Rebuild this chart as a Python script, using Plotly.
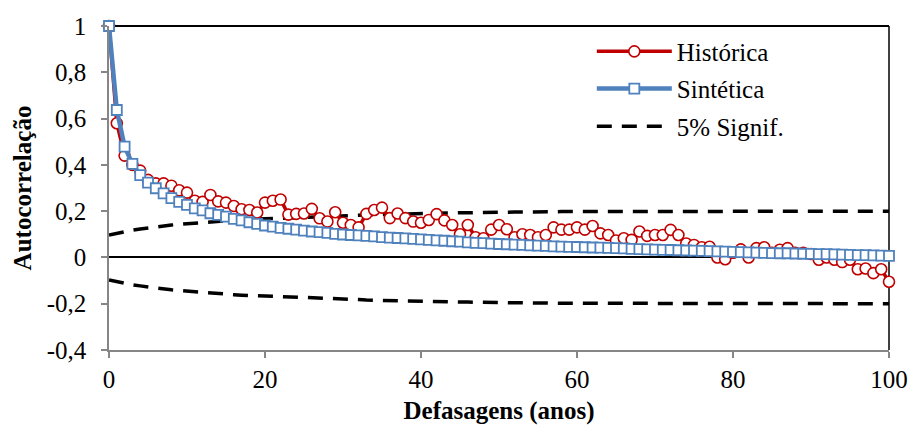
import plotly.graph_objects as go

lags = list(range(0, 101))

historica = [
    1.0, 0.58, 0.44, 0.40, 0.375, 0.335, 0.32, 0.32, 0.31, 0.29,
    0.28, 0.245, 0.24, 0.27, 0.242, 0.237, 0.222, 0.208, 0.205, 0.194,
    0.237, 0.245, 0.25, 0.185, 0.188, 0.19, 0.21, 0.169, 0.155, 0.195,
    0.15, 0.14, 0.13, 0.188, 0.205, 0.215, 0.17, 0.19, 0.17, 0.155,
    0.15, 0.162, 0.187, 0.16, 0.14, 0.10, 0.14, 0.087, 0.083, 0.12,
    0.14, 0.122, 0.087, 0.10, 0.097, 0.087, 0.097, 0.13, 0.12, 0.12,
    0.13, 0.12, 0.136, 0.104, 0.097, 0.073, 0.083, 0.076, 0.112, 0.093,
    0.097, 0.097, 0.119, 0.097, 0.06, 0.054, 0.044, 0.046, 0.0, -0.008,
    0.02, 0.035, 0.0, 0.04, 0.044, 0.02, 0.033, 0.04, 0.02, 0.02,
    0.015, -0.01, 0.0, -0.01, -0.02, -0.01, -0.051, -0.048, -0.068, -0.051,
    -0.105,
]

sintetica = [
    1.0, 0.637, 0.479, 0.404, 0.356, 0.323, 0.299, 0.277, 0.256, 0.240,
    0.227, 0.212, 0.203, 0.191, 0.184, 0.176, 0.167, 0.160, 0.152, 0.145,
    0.138, 0.133, 0.128, 0.124, 0.120, 0.116, 0.112, 0.109, 0.106, 0.102,
    0.099, 0.097, 0.095, 0.093, 0.091, 0.088, 0.086, 0.084, 0.082, 0.080,
    0.078, 0.076, 0.074, 0.072, 0.070, 0.068, 0.065, 0.063, 0.062, 0.060,
    0.058, 0.057, 0.055, 0.054, 0.052, 0.051, 0.050, 0.048, 0.047, 0.046,
    0.045, 0.044, 0.043, 0.042, 0.041, 0.040, 0.039, 0.037, 0.036, 0.035,
    0.034, 0.033, 0.032, 0.031, 0.030, 0.029, 0.028, 0.027, 0.026, 0.025,
    0.024, 0.023, 0.022, 0.021, 0.020, 0.019, 0.018, 0.018, 0.017, 0.016,
    0.015, 0.014, 0.014, 0.013, 0.012, 0.011, 0.010, 0.010, 0.009, 0.008,
    0.007,
]

signif_sup = [
    0.097, 0.105, 0.112, 0.118, 0.123, 0.128, 0.132, 0.136, 0.140, 0.143,
    0.146, 0.149, 0.152, 0.155, 0.157, 0.159, 0.161, 0.163, 0.165, 0.166,
    0.167, 0.168, 0.169, 0.170, 0.171, 0.173, 0.174, 0.176, 0.177, 0.178,
    0.180, 0.181, 0.182, 0.184, 0.185, 0.186, 0.187, 0.188, 0.189, 0.189,
    0.190, 0.191, 0.191, 0.192, 0.192, 0.193, 0.193, 0.194, 0.194, 0.195,
    0.195, 0.196, 0.196, 0.196, 0.197, 0.197, 0.197, 0.198, 0.198, 0.198,
    0.198, 0.199, 0.199, 0.199, 0.199, 0.199, 0.2, 0.2, 0.2, 0.2,
    0.2, 0.2, 0.2, 0.2, 0.2, 0.2, 0.2, 0.2, 0.2, 0.2,
    0.2, 0.2, 0.2, 0.2, 0.2, 0.2, 0.2, 0.2, 0.2, 0.2,
    0.2, 0.2, 0.2, 0.2, 0.2, 0.2, 0.2, 0.2, 0.2, 0.2,
    0.2,
]
signif_inf = [-v for v in signif_sup]

y_tickvals = [-0.4, -0.2, 0, 0.2, 0.4, 0.6, 0.8, 1]
y_ticktext = ["-0,4", "-0,2", "0", "0,2", "0,4", "0,6", "0,8", "1"]
x_tickvals = [0, 20, 40, 60, 80, 100]

FONT = "Liberation Serif"
RED = "#C00000"
BLUE = "#4F81BD"

fig = go.Figure()

fig.add_trace(go.Scatter(
    x=lags, y=signif_sup, mode="lines", name="5% Signif.",
    line=dict(color="black", width=3.5, dash="15px,10px"),
    legend="legend3", cliponaxis=False,
))
fig.add_trace(go.Scatter(
    x=lags, y=signif_inf, mode="lines", name="5% Signif.",
    line=dict(color="black", width=3.5, dash="15px,10px"),
    showlegend=False, cliponaxis=False,
))
fig.add_trace(go.Scatter(
    x=lags, y=historica, mode="lines+markers", name="Histórica",
    line=dict(color=RED, width=3.5),
    marker=dict(symbol="circle", size=11, color="white",
                line=dict(color=RED, width=1.6)),
    legend="legend", cliponaxis=False,
))
fig.add_trace(go.Scatter(
    x=lags, y=sintetica, mode="lines+markers", name="Sintética",
    line=dict(color=BLUE, width=4.5),
    marker=dict(symbol="square", size=10, color="white",
                line=dict(color=BLUE, width=1.8)),
    legend="legend2", cliponaxis=False,
))

legend_common = dict(
    xanchor="left", yanchor="middle", x=0.619,
    font=dict(family=FONT, size=25, color="#000000"),
    bgcolor="rgba(0,0,0,0)", itemwidth=75,
)

fig.update_layout(
    width=909, height=432,
    showlegend=True,
    margin=dict(l=109, r=20, t=26, b=82, autoexpand=False),
    paper_bgcolor="white", plot_bgcolor="white",
    font=dict(family=FONT, size=25),
    legend=dict(y=0.921, **legend_common),
    legend2=dict(y=0.806, **legend_common),
    legend3=dict(y=0.690, **legend_common),
    xaxis=dict(
        range=[0, 100], tickvals=x_tickvals,
        showgrid=False, zeroline=False,
        showline=True, linecolor="#868686", linewidth=1.5,
        ticks="outside", ticklen=6, tickcolor="#868686", tickwidth=1.5,
        tickfont=dict(family=FONT, size=25, color="#000000"),
        title=dict(text="<b>Defasagens (anos)</b>",
                   font=dict(family=FONT, size=25, color="#000000"),
                   standoff=10),
    ),
    yaxis=dict(
        range=[-0.4, 1], tickvals=y_tickvals, ticktext=y_ticktext,
        showgrid=False, zeroline=True, zerolinecolor="black", zerolinewidth=2,
        showline=True, linecolor="#868686", linewidth=1.5,
        ticks="outside", ticklen=6, tickcolor="#868686", tickwidth=1.5,
        tickfont=dict(family=FONT, size=25, color="#000000"),
        ticklabelstandoff=10,
        title=dict(text="<b>Autocorrelação</b>",
                   font=dict(family=FONT, size=25, color="#000000"),
                   standoff=8),
    ),
    shapes=[
        dict(type="line", xref="paper", yref="paper", x0=0, x1=1, y0=1, y1=1,
             line=dict(color="black", width=2), layer="below"),
        dict(type="line", xref="paper", yref="paper", x0=1, x1=1, y0=0, y1=1,
             line=dict(color="black", width=1.5), layer="below"),
    ],
)

fig.write_html("out.html")
